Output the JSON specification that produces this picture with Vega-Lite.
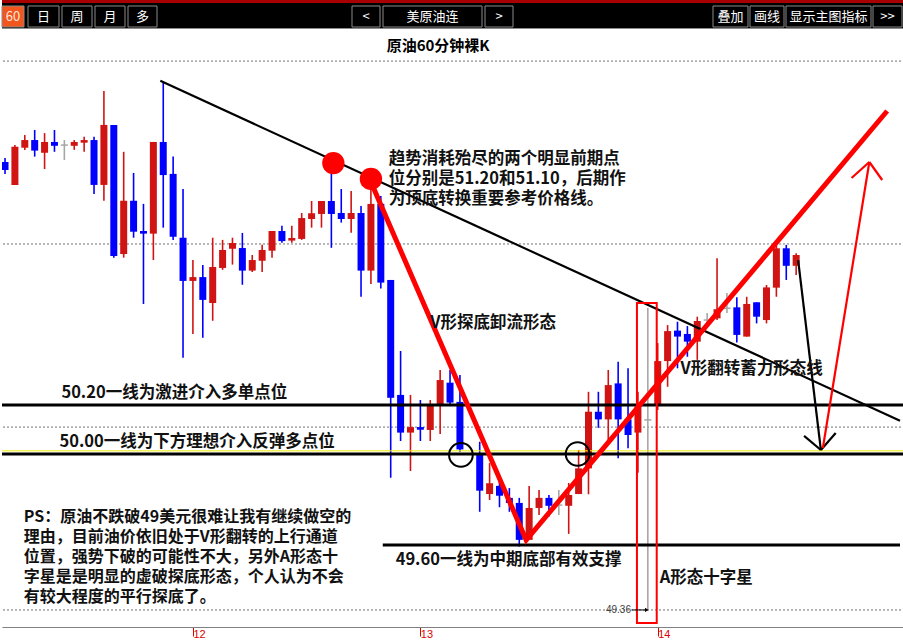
{
  "$schema": "https://vega.github.io/schema/vega-lite/v6.json",
  "padding": 0,
  "spacing": 0,
  "bounds": "flush",
  "background": "white",
  "config": {"view": {"stroke": null}, "font": "Noto Sans CJK SC", "concat": {"spacing": 0}},
  "datasets": {
    "buttons": [
      {"label": "60", "x0": 0, "x1": 22, "on": true},
      {"label": "日", "x0": 26, "x1": 57},
      {"label": "周", "x0": 60, "x1": 90},
      {"label": "月", "x0": 93, "x1": 123},
      {"label": "多", "x0": 126, "x1": 155},
      {"label": "<", "x0": 350, "x1": 378},
      {"label": "美原油连", "x0": 381, "x1": 480},
      {"label": ">", "x0": 483, "x1": 511},
      {"label": "叠加", "x0": 711, "x1": 746},
      {"label": "画线", "x0": 748, "x1": 782},
      {"label": "显示主图指标", "x0": 784, "x1": 869},
      {"label": ">>", "x0": 871, "x1": 900}
    ],
    "candles": [
      {"i": -1, "o": 51.213, "h": 51.229, "l": 51.163, "c": 51.179},
      {"i": 0, "o": 51.117, "h": 51.283, "l": 51.117, "c": 51.276},
      {"i": 1, "o": 51.272, "h": 51.325, "l": 51.263, "c": 51.304},
      {"i": 2, "o": 51.304, "h": 51.346, "l": 51.235, "c": 51.260},
      {"i": 3, "o": 51.251, "h": 51.333, "l": 51.183, "c": 51.296},
      {"i": 4, "o": 51.296, "h": 51.346, "l": 51.255, "c": 51.280},
      {"i": 5, "o": 51.283, "h": 51.304, "l": 51.221, "c": 51.283},
      {"i": 6, "o": 51.280, "h": 51.304, "l": 51.263, "c": 51.296},
      {"i": 7, "o": 51.293, "h": 51.318, "l": 51.255, "c": 51.304},
      {"i": 8, "o": 51.304, "h": 51.318, "l": 51.079, "c": 51.117},
      {"i": 9, "o": 51.117, "h": 51.508, "l": 51.051, "c": 51.367},
      {"i": 10, "o": 51.367, "h": 51.367, "l": 50.814, "c": 50.821},
      {"i": 11, "o": 50.829, "h": 51.255, "l": 50.814, "c": 51.051},
      {"i": 12, "o": 51.051, "h": 51.167, "l": 50.897, "c": 50.922},
      {"i": 13, "o": 50.925, "h": 51.038, "l": 50.621, "c": 50.914},
      {"i": 14, "o": 50.914, "h": 51.296, "l": 50.804, "c": 51.296},
      {"i": 15, "o": 51.296, "h": 51.547, "l": 50.939, "c": 51.158},
      {"i": 16, "o": 51.163, "h": 51.235, "l": 50.888, "c": 50.901},
      {"i": 17, "o": 50.897, "h": 51.100, "l": 50.397, "c": 50.717},
      {"i": 18, "o": 50.717, "h": 50.804, "l": 50.496, "c": 50.733},
      {"i": 19, "o": 50.733, "h": 50.783, "l": 50.480, "c": 50.638},
      {"i": 20, "o": 50.625, "h": 50.897, "l": 50.551, "c": 50.775},
      {"i": 21, "o": 50.771, "h": 50.888, "l": 50.763, "c": 50.846},
      {"i": 22, "o": 50.851, "h": 50.897, "l": 50.785, "c": 50.875},
      {"i": 23, "o": 50.854, "h": 50.917, "l": 50.701, "c": 50.760},
      {"i": 24, "o": 50.760, "h": 50.825, "l": 50.754, "c": 50.804},
      {"i": 25, "o": 50.801, "h": 50.868, "l": 50.754, "c": 50.846},
      {"i": 26, "o": 50.843, "h": 50.925, "l": 50.814, "c": 50.925},
      {"i": 27, "o": 50.925, "h": 50.947, "l": 50.876, "c": 50.883},
      {"i": 28, "o": 50.885, "h": 50.947, "l": 50.876, "c": 50.896},
      {"i": 29, "o": 50.892, "h": 51.000, "l": 50.888, "c": 50.979},
      {"i": 30, "o": 50.975, "h": 51.050, "l": 50.939, "c": 50.999},
      {"i": 31, "o": 50.996, "h": 51.050, "l": 50.939, "c": 51.050},
      {"i": 32, "o": 51.050, "h": 51.188, "l": 50.855, "c": 50.996},
      {"i": 33, "o": 51.000, "h": 51.100, "l": 50.960, "c": 50.975},
      {"i": 34, "o": 50.975, "h": 51.092, "l": 50.918, "c": 51.000},
      {"i": 35, "o": 51.000, "h": 51.029, "l": 50.651, "c": 50.760},
      {"i": 36, "o": 50.760, "h": 51.129, "l": 50.704, "c": 51.038},
      {"i": 37, "o": 51.038, "h": 51.071, "l": 50.685, "c": 50.710},
      {"i": 38, "o": 50.721, "h": 50.721, "l": 49.897, "c": 50.230},
      {"i": 39, "o": 50.242, "h": 50.425, "l": 50.050, "c": 50.085},
      {"i": 40, "o": 50.085, "h": 50.242, "l": 49.925, "c": 50.108},
      {"i": 41, "o": 50.108, "h": 50.221, "l": 50.050, "c": 50.097},
      {"i": 42, "o": 50.096, "h": 50.221, "l": 50.050, "c": 50.200},
      {"i": 43, "o": 50.204, "h": 50.346, "l": 50.079, "c": 50.304},
      {"i": 44, "o": 50.293, "h": 50.346, "l": 50.204, "c": 50.210},
      {"i": 45, "o": 50.213, "h": 50.325, "l": 50.005, "c": 50.015},
      {"i": 47, "o": 49.996, "h": 50.047, "l": 49.755, "c": 49.843},
      {"i": 48, "o": 49.829, "h": 49.958, "l": 49.804, "c": 49.874},
      {"i": 49, "o": 49.863, "h": 49.880, "l": 49.774, "c": 49.822},
      {"i": 50, "o": 49.813, "h": 49.854, "l": 49.755, "c": 49.792},
      {"i": 51, "o": 49.792, "h": 49.813, "l": 49.610, "c": 49.638},
      {"i": 52, "o": 49.638, "h": 49.863, "l": 49.638, "c": 49.771},
      {"i": 53, "o": 49.771, "h": 49.846, "l": 49.742, "c": 49.813},
      {"i": 54, "o": 49.813, "h": 49.825, "l": 49.735, "c": 49.780},
      {"i": 55, "o": 49.783, "h": 49.846, "l": 49.742, "c": 49.783},
      {"i": 56, "o": 49.780, "h": 49.875, "l": 49.663, "c": 49.825},
      {"i": 57, "o": 49.829, "h": 50.013, "l": 49.829, "c": 49.936},
      {"i": 58, "o": 49.936, "h": 50.255, "l": 49.828, "c": 50.172},
      {"i": 59, "o": 50.172, "h": 50.255, "l": 50.105, "c": 50.140},
      {"i": 60, "o": 50.140, "h": 50.346, "l": 50.054, "c": 50.283},
      {"i": 61, "o": 50.290, "h": 50.380, "l": 49.978, "c": 50.140},
      {"i": 62, "o": 50.140, "h": 50.353, "l": 50.020, "c": 50.075},
      {"i": 63, "o": 50.085, "h": 50.255, "l": 49.918, "c": 50.193},
      {"i": 64, "o": 50.138, "h": 50.604, "l": 49.346, "c": 50.138},
      {"i": 65, "o": 50.200, "h": 50.458, "l": 50.179, "c": 50.383},
      {"i": 66, "o": 50.383, "h": 50.533, "l": 50.276, "c": 50.508},
      {"i": 67, "o": 50.510, "h": 50.547, "l": 50.353, "c": 50.485},
      {"i": 68, "o": 50.496, "h": 50.529, "l": 50.401, "c": 50.464},
      {"i": 69, "o": 50.464, "h": 50.568, "l": 50.388, "c": 50.550},
      {"i": 70, "o": 50.554, "h": 50.583, "l": 50.525, "c": 50.554},
      {"i": 71, "o": 50.561, "h": 50.811, "l": 50.554, "c": 50.599},
      {"i": 72, "o": 50.603, "h": 50.667, "l": 50.583, "c": 50.603},
      {"i": 73, "o": 50.607, "h": 50.649, "l": 50.460, "c": 50.492},
      {"i": 74, "o": 50.485, "h": 50.651, "l": 50.485, "c": 50.621},
      {"i": 75, "o": 50.628, "h": 50.628, "l": 50.540, "c": 50.568},
      {"i": 76, "o": 50.554, "h": 50.700, "l": 50.540, "c": 50.690},
      {"i": 77, "o": 50.689, "h": 50.867, "l": 50.651, "c": 50.853},
      {"i": 78, "o": 50.853, "h": 50.867, "l": 50.721, "c": 50.780},
      {"i": 79, "o": 50.780, "h": 50.832, "l": 50.742, "c": 50.825}
    ],
    "grid": [{"p": 49.346}, {"p": 50.108}, {"p": 50.871}, {"p": 51.633}],
    "levels": [
      {"p": 50.20},
      {"p": 49.996}
    ],
    "support": [{"i0": 37.2, "i1": 89.5, "p": 49.617}],
    "priceline": [{"p": 50.009}],
    "lines": [
      {"g": "trend", "n": 0, "i": 14.7, "p": 51.551},
      {"g": "trend", "n": 1, "i": 89.5, "p": 50.134},
      {"g": "bdown", "n": 0, "i": 79.2, "p": 50.804},
      {"g": "bdown", "n": 1, "i": 81.5, "p": 50.0125},
      {"g": "bL", "n": 0, "i": 79.8, "p": 50.071},
      {"g": "bL", "n": 1, "i": 81.5, "p": 50.0125},
      {"g": "bR", "n": 0, "i": 83.0, "p": 50.083},
      {"g": "bR", "n": 1, "i": 81.5, "p": 50.0125},
      {"g": "V", "n": 0, "i": 36.0, "p": 51.129},
      {"g": "V", "n": 1, "i": 51.7, "p": 49.6375},
      {"g": "V", "n": 2, "i": 88.2, "p": 51.425},
      {"g": "rup", "n": 0, "i": 81.7, "p": 50.021},
      {"g": "rup", "n": 1, "i": 86.4, "p": 51.2125},
      {"g": "rL", "n": 0, "i": 84.6, "p": 51.146},
      {"g": "rL", "n": 1, "i": 86.4, "p": 51.2125},
      {"g": "rR", "n": 0, "i": 87.7, "p": 51.1375},
      {"g": "rR", "n": 1, "i": 86.4, "p": 51.2125}
    ],
    "boxes": [{"i0": 62.9, "i1": 64.9, "p0": 50.625, "p1": 49.292}],
    "rings": [{"i": 45.1, "p": 49.992}, {"i": 56.9, "p": 49.996}],
    "dots": [{"i": 32.2, "p": 51.208}, {"i": 36.0, "p": 51.142}],
    "title": [{"t": "原油60分钟裸K", "i": 42.8, "p": 51.696}],
    "notes": [
      {"t": "趋势消耗殆尽的两个明显前期点", "i": 37.8, "p": 51.225},
      {"t": "位分别是51.20和51.10，后期作", "i": 37.8, "p": 51.142},
      {"t": "为顶底转换重要参考价格线。", "i": 37.8, "p": 51.058},
      {"t": "V形探底卸流形态", "i": 42.0, "p": 50.542},
      {"t": "V形翻转蓄力形态线", "i": 67.3, "p": 50.350},
      {"t": "50.20一线为激进介入多单点位", "i": 4.7, "p": 50.250},
      {"t": "50.00一线为下方理想介入反弹多点位", "i": 4.5, "p": 50.047},
      {"t": "49.60一线为中期底部有效支撑", "i": 38.5, "p": 49.554},
      {"t": "A形态十字星", "i": 65.2, "p": 49.479}
    ],
    "ps": [
      {"t": "PS：原油不跌破49美元很难让我有继续做空的", "i": 0.9, "p": 49.733},
      {"t": "理由，目前油价依旧处于V形翻转的上行通道", "i": 0.9, "p": 49.650},
      {"t": "位置，强势下破的可能性不大，另外A形态十", "i": 0.9, "p": 49.567},
      {"t": "字星是是明显的虚破探底形态，个人认为不会", "i": 0.9, "p": 49.483},
      {"t": "有较大程度的平行探底了。", "i": 0.9, "p": 49.400}
    ],
    "lowmark": [{"t": "49.36", "i0": 62.4, "i1": 63.9, "p": 49.346}]
  },
  "vconcat": [
    {
      "width": 903,
      "height": 29,
      "view": {"fill": "#000000", "stroke": null},
      "layer": [
        {
          "data": {"values": [{"part": "strip"}]},
          "mark": {"type": "rect", "color": "#a80000"},
          "encoding": {"x": {"value": 0}, "x2": {"value": "width"}, "y": {"value": 0}, "y2": {"value": 3}}
        },
        {
          "data": {"values": [{"part": "edge"}]},
          "mark": {"type": "rect", "color": "#8c8c8c"},
          "encoding": {"x": {"value": 0}, "x2": {"value": "width"}, "y": {"value": 28}, "y2": {"value": 29}}
        },
        {
          "data": {"name": "buttons"},
          "mark": {"type": "rect", "stroke": "#8a8a8a", "strokeWidth": 1},
          "encoding": {
            "x": {"field": "x0", "type": "quantitative", "scale": {"domain": [0, 903], "nice": false, "zero": false}, "axis": null},
            "x2": {"field": "x1"},
            "y": {"value": 6},
            "y2": {"value": 27},
            "fill": {"condition": {"test": "datum.on", "value": "#f0561e"}, "value": "#000000"}
          }
        },
        {
          "data": {"name": "buttons"},
          "transform": [{"calculate": "(datum.x0 + datum.x1) / 2", "as": "xm"}],
          "mark": {"type": "text", "fontSize": 13, "baseline": "middle", "align": "center"},
          "encoding": {
            "x": {"field": "xm", "type": "quantitative", "scale": {"domain": [0, 903], "nice": false, "zero": false}, "axis": null},
            "y": {"value": 17},
            "text": {"field": "label"},
            "color": {"condition": {"test": "datum.on", "value": "#ffe8dc"}, "value": "#ffffff"}
          }
        }
      ]
    },
    {
      "width": 903,
      "height": 598,
      "layer": [
        {
          "data": {"name": "grid"},
          "mark": {"type": "rule", "color": "#707070", "strokeWidth": 1, "strokeDash": [2, 2]},
          "encoding": {
            "y": {
              "field": "p", "type": "quantitative",
              "scale": {"domain": [49.275, 51.7667], "nice": false, "zero": false},
              "axis": null
            }
          }
        },
        {
          "data": {"name": "candles"},
          "mark": {"type": "rule", "strokeWidth": 1.6, "clip": true},
          "encoding": {
            "x": {
              "field": "i", "type": "quantitative",
              "scale": {"domain": [-0.8, 89.5], "nice": false, "zero": false},
              "axis": {
                "values": [18, 41, 65],
                "labelExpr": "datum.value == 18 ? '12' : datum.value == 41 ? '13' : '14'",
                "title": null, "grid": false,
                "domainColor": "#808080", "tickColor": "#e00000", "tickSize": 9,
                "labelColor": "#e00000", "labelFontSize": 11, "labelFont": "Liberation Sans",
                "labelAlign": "left", "labelBaseline": "top", "labelPadding": -8, "labelDx": 2
              }
            },
            "y": {"field": "l", "type": "quantitative", "title": null},
            "y2": {"field": "h"},
            "color": {
              "condition": [
                {"test": "datum.c > datum.o", "value": "#d01414"},
                {"test": "datum.c < datum.o", "value": "#0000ff"}
              ],
              "value": "#a6a6a6"
            }
          }
        },
        {
          "data": {"name": "candles"},
          "mark": {"type": "bar", "size": 7, "clip": true},
          "encoding": {
            "x": {"field": "i", "type": "quantitative", "title": null},
            "y": {"field": "o", "type": "quantitative", "title": null},
            "y2": {"field": "c"},
            "color": {
              "condition": [
                {"test": "datum.c > datum.o", "value": "#d01414"},
                {"test": "datum.c < datum.o", "value": "#0000ff"}
              ],
              "value": "#a6a6a6"
            }
          }
        },
        {
          "data": {"name": "candles"},
          "transform": [{"filter": "datum.o == datum.c"}],
          "mark": {"type": "rule", "color": "#a6a6a6", "strokeWidth": 1.5, "xOffset": -3.5, "x2Offset": 3.5},
          "encoding": {
            "x": {"field": "i", "type": "quantitative", "title": null},
            "x2": {"field": "i"},
            "y": {"field": "o", "type": "quantitative", "title": null}
          }
        },
        {
          "data": {"name": "priceline"},
          "mark": {"type": "rule", "color": "#f0ec00", "strokeWidth": 1},
          "encoding": {"y": {"field": "p", "type": "quantitative", "title": null}}
        },
        {
          "data": {"name": "levels"},
          "mark": {"type": "rule", "color": "#000000", "strokeWidth": 3},
          "encoding": {"y": {"field": "p", "type": "quantitative", "title": null}}
        },
        {
          "data": {"name": "support"},
          "mark": {"type": "rule", "color": "#000000", "strokeWidth": 3},
          "encoding": {
            "x": {"field": "i0", "type": "quantitative", "title": null},
            "x2": {"field": "i1"},
            "y": {"field": "p", "type": "quantitative", "title": null}
          }
        },
        {
          "data": {"name": "lines"},
          "transform": [{"filter": {"field": "g", "oneOf": ["trend", "bdown", "bL", "bR"]}}],
          "mark": {"type": "line", "color": "#000000", "strokeWidth": 2.2, "clip": true},
          "encoding": {
            "x": {"field": "i", "type": "quantitative", "title": null},
            "y": {"field": "p", "type": "quantitative", "title": null},
            "detail": {"field": "g"},
            "order": {"field": "n"}
          }
        },
        {
          "data": {"name": "boxes"},
          "mark": {"type": "rect", "fillOpacity": 0, "stroke": "#ff0000", "strokeWidth": 2},
          "encoding": {
            "x": {"field": "i0", "type": "quantitative", "title": null},
            "x2": {"field": "i1"},
            "y": {"field": "p0", "type": "quantitative", "title": null},
            "y2": {"field": "p1"}
          }
        },
        {
          "data": {"name": "lines"},
          "transform": [{"filter": {"field": "g", "equal": "V"}}],
          "mark": {"type": "line", "color": "#ff0000", "strokeWidth": 5, "clip": true},
          "encoding": {
            "x": {"field": "i", "type": "quantitative", "title": null},
            "y": {"field": "p", "type": "quantitative", "title": null},
            "detail": {"field": "g"},
            "order": {"field": "n"}
          }
        },
        {
          "data": {"name": "lines"},
          "transform": [{"filter": {"field": "g", "oneOf": ["rup", "rL", "rR"]}}],
          "mark": {"type": "line", "color": "#ff0000", "strokeWidth": 2.2, "clip": true},
          "encoding": {
            "x": {"field": "i", "type": "quantitative", "title": null},
            "y": {"field": "p", "type": "quantitative", "title": null},
            "detail": {"field": "g"},
            "order": {"field": "n"}
          }
        },
        {
          "data": {"name": "dots"},
          "mark": {"type": "point", "shape": "circle", "filled": true, "color": "#ff0000", "opacity": 1, "size": 500},
          "encoding": {
            "x": {"field": "i", "type": "quantitative", "title": null},
            "y": {"field": "p", "type": "quantitative", "title": null}
          }
        },
        {
          "data": {"name": "rings"},
          "mark": {"type": "point", "shape": "circle", "filled": false, "color": "#000000", "strokeWidth": 2, "opacity": 1, "size": 560},
          "encoding": {
            "x": {"field": "i", "type": "quantitative", "title": null},
            "y": {"field": "p", "type": "quantitative", "title": null}
          }
        },
        {
          "data": {"name": "title"},
          "mark": {"type": "text", "fontSize": 15, "fontWeight": "bold", "align": "center", "baseline": "middle", "color": "#000000"},
          "encoding": {
            "x": {"field": "i", "type": "quantitative", "title": null},
            "y": {"field": "p", "type": "quantitative", "title": null},
            "text": {"field": "t"}
          }
        },
        {
          "data": {"name": "notes"},
          "mark": {"type": "text", "fontSize": 16.5, "fontWeight": "bold", "align": "left", "baseline": "middle", "color": "#111111"},
          "encoding": {
            "x": {"field": "i", "type": "quantitative", "title": null},
            "y": {"field": "p", "type": "quantitative", "title": null},
            "text": {"field": "t"}
          }
        },
        {
          "data": {"name": "ps"},
          "mark": {"type": "text", "fontSize": 16, "fontWeight": "bold", "align": "left", "baseline": "middle", "color": "#111111"},
          "encoding": {
            "x": {"field": "i", "type": "quantitative", "title": null},
            "y": {"field": "p", "type": "quantitative", "title": null},
            "text": {"field": "t"}
          }
        },
        {
          "data": {"name": "lowmark"},
          "mark": {"type": "rule", "color": "#000000", "strokeWidth": 1},
          "encoding": {
            "x": {"field": "i0", "type": "quantitative", "title": null},
            "x2": {"field": "i1"},
            "y": {"field": "p", "type": "quantitative", "title": null}
          }
        },
        {
          "data": {"name": "lowmark"},
          "mark": {"type": "point", "shape": "triangle-right", "filled": true, "color": "#000000", "opacity": 1, "size": 18},
          "encoding": {
            "x": {"field": "i1", "type": "quantitative", "title": null},
            "y": {"field": "p", "type": "quantitative", "title": null}
          }
        },
        {
          "data": {"name": "lowmark"},
          "mark": {"type": "text", "fontSize": 10, "align": "right", "baseline": "middle", "color": "#404040", "font": "Liberation Sans", "dx": -1},
          "encoding": {
            "x": {"field": "i0", "type": "quantitative", "title": null},
            "y": {"field": "p", "type": "quantitative", "title": null},
            "text": {"field": "t"}
          }
        }
      ]
    }
  ]
}
